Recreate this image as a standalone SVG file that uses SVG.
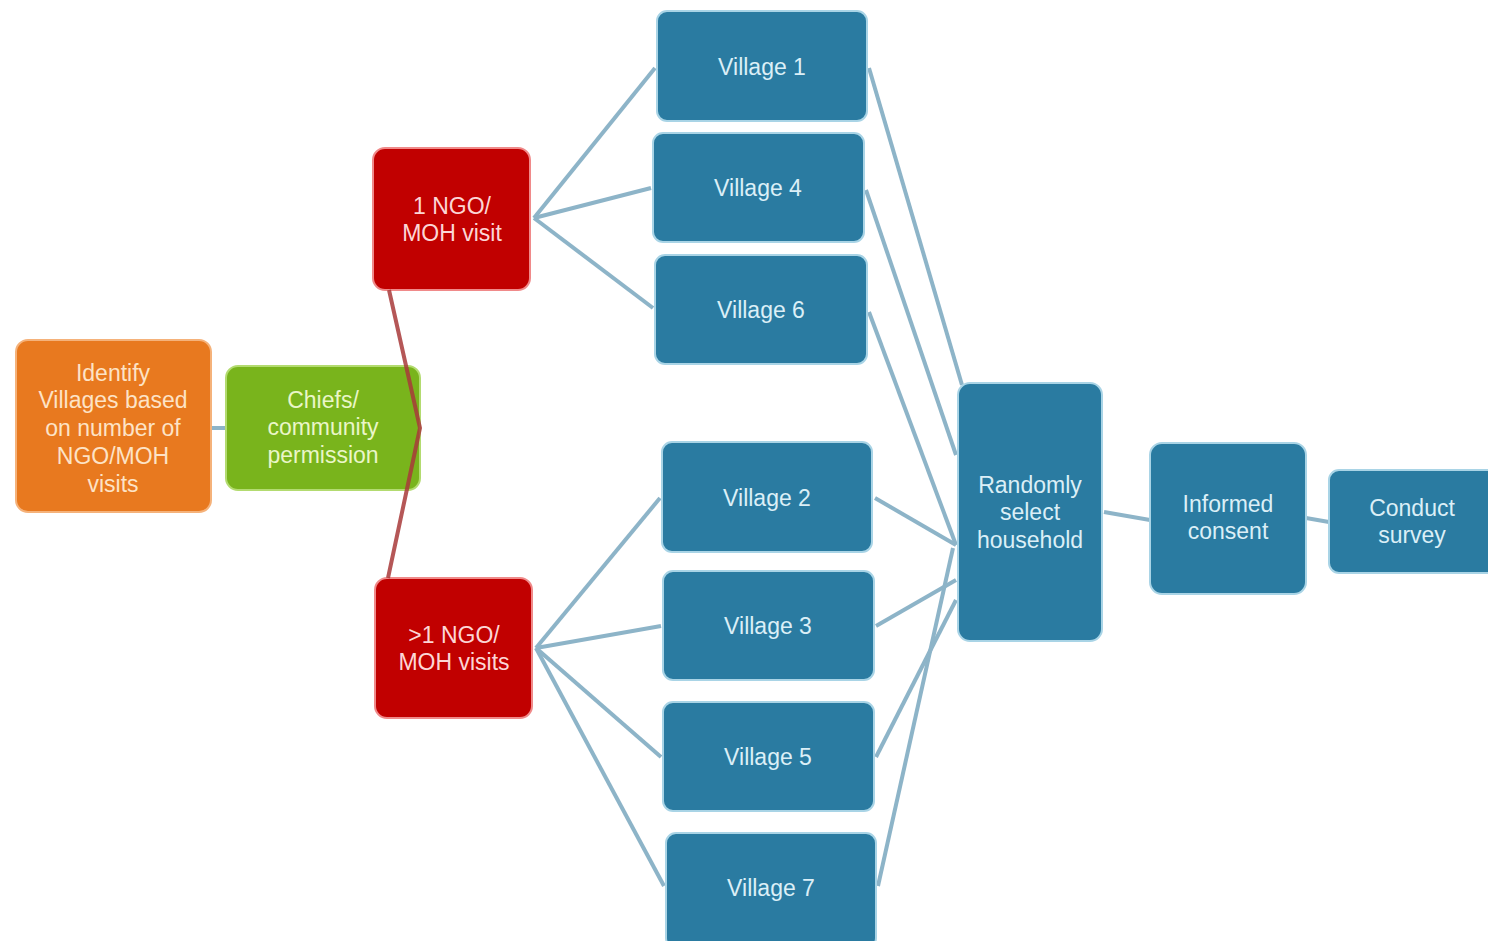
<svg xmlns="http://www.w3.org/2000/svg" width="1488" height="941" viewBox="0 0 1488 941">
<style>
.box{stroke-width:2}
.blue{fill:#2A7BA1;stroke:#a9d4e6}
.red{fill:#C10000;stroke:#f08a8a}
.orange{fill:#E8791F;stroke:#f5b27a}
.green{fill:#79B41C;stroke:#b3db70}
.t{font-family:"Liberation Sans",Arial,sans-serif;font-size:23px;text-anchor:middle}
.tb{fill:#dbeff7}
.tr{fill:#fcd6d6}
.to{fill:#fde3c6}
.tg{fill:#eaf6c8}
.c{fill:none;stroke:#8DB4C8;stroke-width:4}
</style>
<rect width="1488" height="941" fill="#ffffff"/>
<g id="connectors">
<line class="c" x1="211" y1="428" x2="226" y2="428" stroke="#b5c9a0"/>
<line class="c" x1="534" y1="218" x2="655" y2="68"/>
<line class="c" x1="534" y1="218" x2="651" y2="188"/>
<line class="c" x1="534" y1="218" x2="653" y2="308"/>
<line class="c" x1="536" y1="648" x2="660" y2="498"/>
<line class="c" x1="536" y1="648" x2="661" y2="626"/>
<line class="c" x1="536" y1="648" x2="661" y2="757"/>
<line class="c" x1="536" y1="648" x2="664" y2="886"/>
<line class="c" x1="869" y1="68" x2="962" y2="385"/>
<line class="c" x1="866" y1="190" x2="956" y2="455"/>
<line class="c" x1="869" y1="312" x2="956" y2="545"/>
<line class="c" x1="875" y1="498" x2="956" y2="545"/>
<line class="c" x1="876" y1="626" x2="956" y2="580"/>
<line class="c" x1="876" y1="757" x2="956" y2="600"/>
<line class="c" x1="878" y1="886" x2="953" y2="548"/>
<line class="c" x1="1104" y1="512" x2="1150" y2="520"/>
<line class="c" x1="1306" y1="518" x2="1329" y2="522"/>
</g>
<g id="n-identify">
<rect class="box orange" x="16" y="340" width="195" height="172" rx="12"/>
<text class="t to" x="113" y="381">Identify</text>
<text class="t to" x="113" y="408">Villages based</text>
<text class="t to" x="113" y="436">on number of</text>
<text class="t to" x="113" y="464">NGO/MOH</text>
<text class="t to" x="113" y="492">visits</text>
</g>
<g id="n-chiefs">
<rect class="box green" x="226" y="366" width="194" height="124" rx="12"/>
<text class="t tg" x="323" y="408">Chiefs/</text>
<text class="t tg" x="323" y="435">community</text>
<text class="t tg" x="323" y="463">permission</text>
</g>
<g id="n-one">
<rect class="box red" x="373" y="148" width="157" height="142" rx="12"/>
<text class="t tr" x="452" y="214">1 NGO/</text>
<text class="t tr" x="452" y="241">MOH visit</text>
</g>
<g id="n-more">
<rect class="box red" x="375" y="578" width="157" height="140" rx="12"/>
<text class="t tr" x="454" y="643">&gt;1 NGO/</text>
<text class="t tr" x="454" y="670">MOH visits</text>
</g>
<g id="red-connector">
<polyline points="389,290 420,428 388,578" fill="none" stroke="#a83a3a" stroke-width="4" opacity="0.85"/>
</g>
<g id="n-v1">
<rect class="box blue" x="657" y="11" width="210" height="110" rx="10"/>
<text class="t tb" x="762" y="75">Village 1</text>
</g>
<g id="n-v4">
<rect class="box blue" x="653" y="133" width="211" height="109" rx="10"/>
<text class="t tb" x="758" y="196">Village 4</text>
</g>
<g id="n-v6">
<rect class="box blue" x="655" y="255" width="212" height="109" rx="10"/>
<text class="t tb" x="761" y="318">Village 6</text>
</g>
<g id="n-v2">
<rect class="box blue" x="662" y="442" width="210" height="110" rx="10"/>
<text class="t tb" x="767" y="506">Village 2</text>
</g>
<g id="n-v3">
<rect class="box blue" x="663" y="571" width="211" height="109" rx="10"/>
<text class="t tb" x="768" y="634">Village 3</text>
</g>
<g id="n-v5">
<rect class="box blue" x="663" y="702" width="211" height="109" rx="10"/>
<text class="t tb" x="768" y="765">Village 5</text>
</g>
<g id="n-v7">
<rect class="box blue" x="666" y="833" width="210" height="115" rx="10"/>
<text class="t tb" x="771" y="896">Village 7</text>
</g>
<g id="n-random">
<rect class="box blue" x="958" y="383" width="144" height="258" rx="12"/>
<text class="t tb" x="1030" y="493">Randomly</text>
<text class="t tb" x="1030" y="520">select</text>
<text class="t tb" x="1030" y="548">household</text>
</g>
<g id="n-consent">
<rect class="box blue" x="1150" y="443" width="156" height="151" rx="12"/>
<text class="t tb" x="1228" y="512">Informed</text>
<text class="t tb" x="1228" y="539">consent</text>
</g>
<g id="n-survey">
<rect class="box blue" x="1329" y="470" width="170" height="103" rx="10"/>
<text class="t tb" x="1412" y="516">Conduct</text>
<text class="t tb" x="1412" y="543">survey</text>
</g>
</svg>
